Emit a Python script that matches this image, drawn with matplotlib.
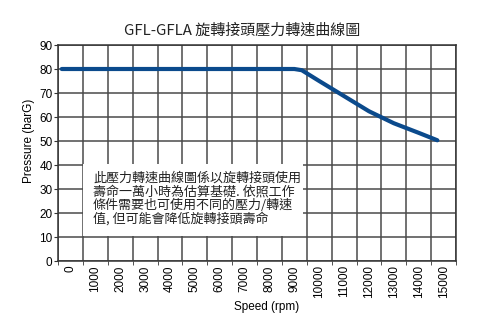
import numpy as np
import matplotlib
matplotlib.use("Agg")
import matplotlib.pyplot as plt
from matplotlib.patches import Rectangle

plt.rcParams['font.family'] = ['Liberation Sans', 'Noto Sans CJK TC', 'DejaVu Sans']

# pressure / speed curve of the GFL-GFLA rotary joint
speed = [-350, 9000, 9300, 10000, 11000, 12000, 13000, 14000, 14750]
pressure = [80, 80, 79.5, 75, 68.7, 62.4, 57.4, 53.4, 50.3]

speed_ticks = list(range(0, 16000, 1000))
pressure_ticks = list(range(0, 100, 10))

title = 'GFL-GFLA 旋轉接頭壓力轉速曲線圖'
note = ('此壓力轉速曲線圖係以旋轉接頭使用\n'
        '壽命一萬小時為估算基礎. 依照工作\n'
        '條件需要也可使用不同的壓力/轉速\n'
        '值, 但可能會降低旋轉接頭壽命')

fig = plt.figure(figsize=(4.86, 3.23), dpi=100)
ax = fig.add_axes([58 / 486, 1 - 261 / 323, 398 / 486, 216 / 323])

ax.plot(speed, pressure, color='#0b4a8c', lw=3.0, solid_capstyle='round',
        solid_joinstyle='round', zorder=5)

ax.set_xlim(-500, 15500)
ax.set_ylim(0, 90)

# gridlines sit between the speed labels
ax.set_xticks(speed_ticks)
ax.set_xticklabels([str(s) for s in speed_ticks], rotation=90, fontsize=8.5)
ax.tick_params(axis='x', length=0, pad=3)
ax.set_xticks(np.arange(-500, 16000, 1000), minor=True)
ax.tick_params(axis='x', which='minor', length=3, color='#333333')
ax.set_yticks(pressure_ticks)
ax.tick_params(axis='y', length=3, pad=1, labelsize=8.5, color='#333333')

ax.grid(True, which='minor', axis='x', color='#4a4a4a', lw=1.1)
ax.grid(True, which='major', axis='y', color='#4a4a4a', lw=1.1)
ax.grid(False, which='major', axis='x')
ax.set_axisbelow(True)
for side in ax.spines.values():
    side.set_color('#333333')
    side.set_linewidth(1.1)

ax.add_patch(Rectangle((25 / 398, 25 / 216), 220 / 398, 72 / 216, transform=ax.transAxes,
                       facecolor='white', edgecolor='none', zorder=3))
ax.text(35 / 398, 89 / 216, note, transform=ax.transAxes, ha='left', va='top',
        fontsize=9.4, linespacing=1.03, color='#222222', zorder=4,
        family=['Noto Sans CJK TC', 'DejaVu Sans'])

fig.text(242 / 486, 1 - 30 / 323, title, ha='center', va='center', fontsize=10.8,
         color='#222222', family=['Noto Sans CJK TC', 'DejaVu Sans'])
fig.text(29 / 486, 1 - 141 / 323, 'Pressure (barG)', rotation=90, ha='center',
         va='center', fontsize=8.5)
fig.text(267 / 486, 1 - 307 / 323, 'Speed (rpm)', ha='center', va='center', fontsize=8.5)

fig.savefig('out.png', dpi=100)
